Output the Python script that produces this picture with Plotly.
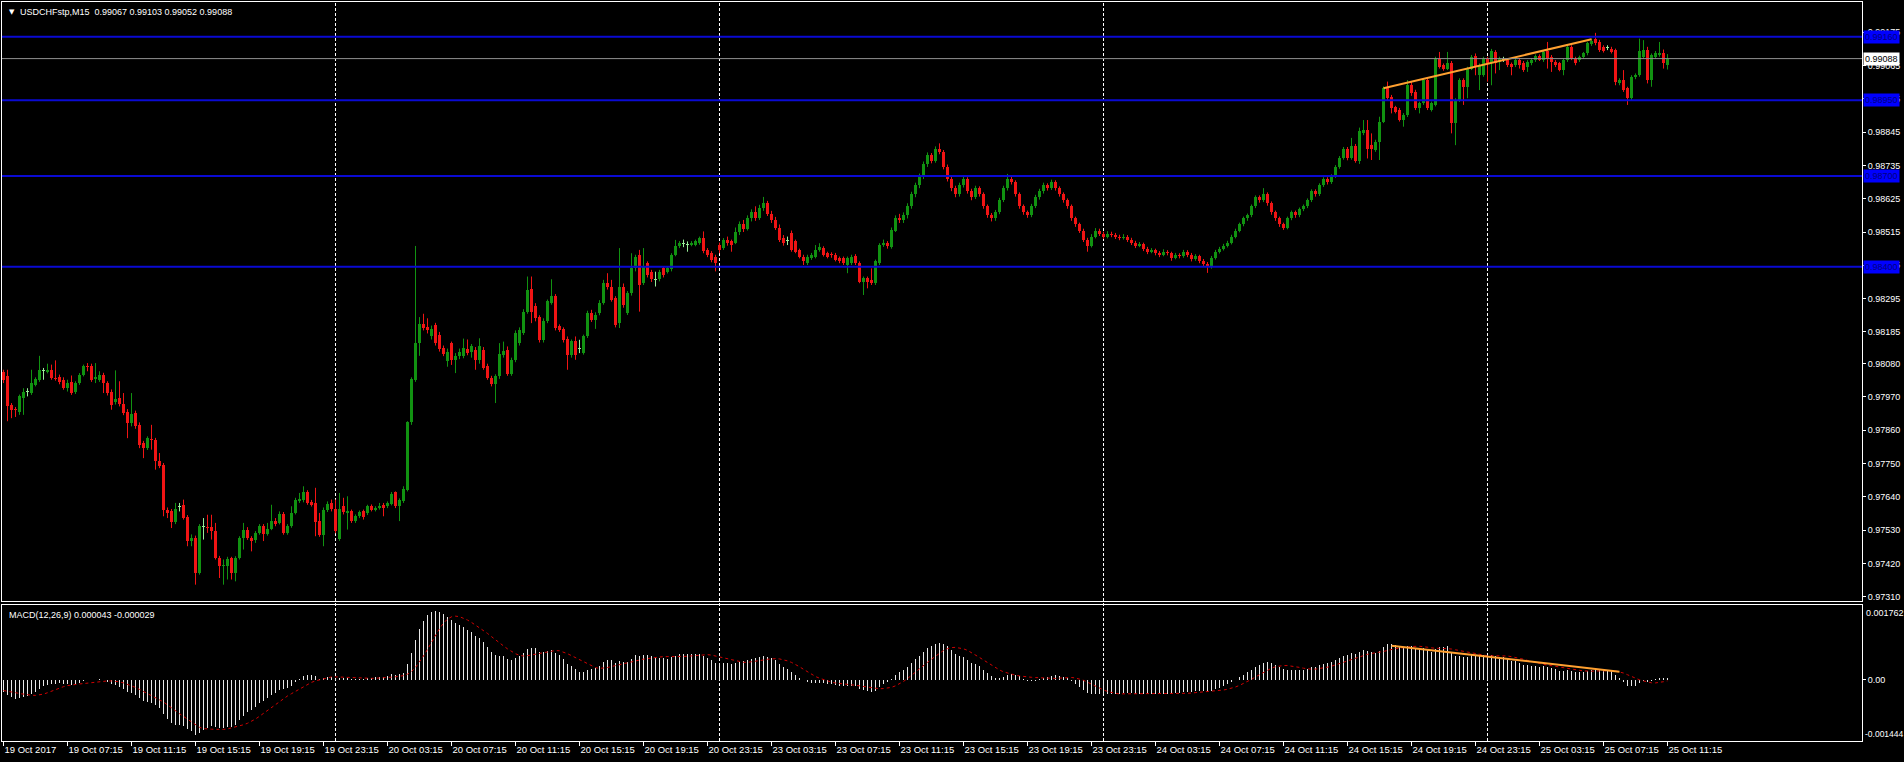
import numpy as np
import plotly.graph_objects as go

# ---------------- DATA (prices in points, 1 point = 0.00001) ----------------
SCALE = 1e-5

open_pts = [
    98054, 98038, 97944, 97931, 97922, 97966, 97988, 97983, 98010, 98025,
    98058, 98052, 98060, 98032, 98035, 98027, 98000, 98021, 97985, 98016,
    98044, 98073, 98073, 98029, 98027, 98044, 98016, 97988, 97952, 97966,
    97948, 97922, 97884, 97917, 97879, 97818, 97801, 97829, 97829, 97760,
    97746, 97598, 97592, 97556, 97608, 97614, 97573, 97494, 97505, 97389,
    97542, 97541, 97541, 97527, 97438, 97411, 97413, 97437, 97389, 97438,
    97505, 97532, 97505, 97499, 97521, 97543, 97519, 97534, 97560, 97554,
    97582, 97521, 97543, 97587, 97625, 97629, 97656, 97623, 97620, 97560,
    97515, 97596, 97620, 97601, 97501, 97609, 97587, 97592, 97560, 97576,
    97592, 97587, 97609, 97598, 97603, 97614, 97609, 97618, 97655, 97609,
    97625, 97664, 97886, 98027, 98148, 98211, 98200, 98170, 98208, 98175,
    98132, 98088, 98150, 98091, 98104, 98104, 98128, 98120, 98124, 98091,
    98124, 98071, 98033, 98014, 98038, 98110, 98124, 98047, 98093, 98150,
    98181, 98252, 98326, 98271, 98234, 98159, 98220, 98280, 98304, 98203,
    98194, 98161, 98110, 98154, 98131, 98115, 98170, 98247, 98225, 98247,
    98280, 98346, 98335, 98297, 98214, 98335, 98247, 98313, 98395, 98440,
    98346, 98412, 98384, 98359, 98359, 98395, 98384, 98392, 98440, 98469,
    98476, 98474, 98473, 98473, 98478, 98495, 98456, 98445, 98434, 98472,
    98462, 98489, 98484, 98480, 98516, 98540, 98525, 98560, 98580, 98560,
    98595, 98610, 98575, 98555, 98530, 98495, 98487, 98511, 98484, 98456,
    98434, 98412, 98429, 98434, 98456, 98462, 98445, 98440, 98440, 98428,
    98428, 98406, 98412, 98436, 98412, 98351, 98362, 98357, 98346, 98412,
    98472, 98478, 98467, 98520, 98560, 98555, 98570, 98600, 98640, 98670,
    98700, 98740, 98770, 98750, 98790, 98780, 98730, 98690, 98660, 98640,
    98670, 98690, 98650, 98630, 98660, 98640, 98600, 98570, 98560, 98580,
    98620, 98660, 98690, 98680, 98640, 98600, 98580, 98570, 98600, 98630,
    98650, 98670, 98660, 98680, 98660, 98640, 98620, 98600, 98560, 98540,
    98520, 98490, 98470, 98500, 98520, 98510, 98500, 98510, 98505, 98500,
    98495, 98500, 98490, 98480, 98470, 98475, 98460, 98450, 98455, 98445,
    98440, 98450, 98445, 98430, 98440, 98435, 98450, 98440, 98425, 98435,
    98420, 98410, 98400, 98430, 98450, 98460, 98470, 98480, 98500, 98520,
    98540, 98560, 98570, 98600, 98630, 98620, 98640, 98610, 98580, 98560,
    98540, 98530, 98560, 98580, 98570, 98590, 98600, 98620, 98650, 98640,
    98670, 98690, 98680, 98700, 98730, 98760, 98790, 98760, 98800, 98750,
    98841, 98852, 98802, 98786, 98813, 98880, 98990, 98962, 98927, 98918,
    98885, 98902, 99000, 98978, 98924, 98940, 99017, 98918, 98935, 99088,
    99066, 99055, 99072, 98874, 98951, 99017, 98995, 99055, 99096, 99033,
    99033, 99088, 99072, 99110, 99077, 99086, 99085, 99070, 99066, 99083,
    99074, 99061, 99072, 99083, 99096, 99083, 99114, 99094, 99077, 99072,
    99052, 99083, 99127, 99088, 99083, 99094, 99105, 99136, 99154, 99143,
    99127, 99126, 99121, 99116, 99006, 99017, 98990, 98957, 99026, 99033,
    99094, 99116, 99017, 99094, 99099, 99107, 99067,
]

high_pts = [
    98060, 98060, 97950, 97937, 97978, 97999, 97999, 98060, 98035, 98106,
    98066, 98080, 98077, 98091, 98044, 98035, 98027, 98041, 98022, 98049,
    98077, 98082, 98080, 98082, 98055, 98050, 98022, 97995, 98058, 98022,
    97983, 97930, 97983, 97925, 97886, 97825, 97840, 97878, 97835, 97785,
    97752, 97605, 97600, 97620, 97620, 97631, 97580, 97516, 97512, 97550,
    97570, 97581, 97581, 97554, 97445, 97433, 97442, 97442, 97444, 97510,
    97554, 97540, 97510, 97527, 97550, 97550, 97554, 97614, 97570, 97592,
    97590, 97550, 97609, 97637, 97653, 97675, 97662, 97630, 97670, 97587,
    97605, 97625, 97631, 97631, 97653, 97637, 97642, 97598, 97582, 97595,
    97598, 97614, 97615, 97609, 97620, 97620, 97625, 97656, 97658, 97635,
    97675, 97890, 98035, 98469, 98234, 98245, 98230, 98206, 98215, 98185,
    98140, 98130, 98153, 98115, 98130, 98163, 98160, 98145, 98135, 98164,
    98135, 98080, 98040, 98045, 98148, 98153, 98137, 98100, 98190, 98200,
    98260, 98368, 98368, 98280, 98240, 98230, 98292, 98359, 98310, 98210,
    98200, 98170, 98160, 98170, 98159, 98176, 98255, 98258, 98250, 98290,
    98357, 98379, 98357, 98303, 98462, 98345, 98320, 98445, 98440, 98456,
    98462, 98418, 98390, 98384, 98390, 98400, 98400, 98445, 98489, 98485,
    98490, 98484, 98485, 98490, 98500, 98517, 98462, 98452, 98440, 98480,
    98495, 98500, 98490, 98530, 98550, 98555, 98570, 98590, 98600, 98605,
    98631, 98618, 98585, 98565, 98540, 98505, 98500, 98520, 98490, 98460,
    98440, 98440, 98446, 98472, 98478, 98468, 98450, 98448, 98446, 98434,
    98434, 98434, 98440, 98442, 98418, 98368, 98368, 98395, 98424, 98478,
    98490, 98485, 98530, 98570, 98575, 98580, 98610, 98648, 98678, 98708,
    98748, 98778, 98776, 98798, 98808, 98786, 98738, 98698, 98668, 98678,
    98700, 98696, 98658, 98668, 98666, 98646, 98606, 98578, 98588, 98628,
    98668, 98707, 98698, 98686, 98646, 98606, 98586, 98608, 98638, 98658,
    98678, 98676, 98688, 98686, 98666, 98646, 98626, 98606, 98566, 98546,
    98526, 98496, 98508, 98528, 98526, 98516, 98518, 98516, 98512, 98506,
    98508, 98505, 98496, 98486, 98482, 98480, 98466, 98462, 98460, 98452,
    98458, 98455, 98450, 98446, 98445, 98456, 98455, 98446, 98442, 98440,
    98426, 98416, 98436, 98456, 98466, 98476, 98486, 98506, 98526, 98546,
    98566, 98576, 98606, 98636, 98636, 98660, 98646, 98616, 98586, 98566,
    98546, 98566, 98586, 98586, 98596, 98606, 98626, 98656, 98656, 98676,
    98696, 98696, 98706, 98736, 98766, 98796, 98796, 98826, 98806, 98860,
    98885, 98885, 98841, 98820, 98896, 98996, 99012, 98968, 98932, 98925,
    98908, 99017, 99012, 98985, 98946, 99023, 99023, 98946, 99094, 99110,
    99072, 99110, 99080, 98957, 99023, 99023, 99061, 99100, 99105, 99072,
    99094, 99094, 99120, 99116, 99094, 99094, 99090, 99075, 99090, 99090,
    99080, 99083, 99090, 99102, 99102, 99116, 99143, 99100, 99083, 99077,
    99088, 99132, 99132, 99094, 99098, 99110, 99143, 99154, 99173, 99150,
    99132, 99132, 99127, 99121, 99023, 99050, 98995, 99033, 99039, 99154,
    99149, 99127, 99105, 99113, 99143, 99118, 99103,
]

low_pts = [
    98016, 97890, 97900, 97904, 97911, 97911, 97972, 97977, 98005, 98020,
    98027, 98048, 98027, 98024, 98012, 97994, 97988, 97977, 97980, 98010,
    98038, 98055, 98020, 98016, 98020, 97983, 97975, 97928, 97945, 97939,
    97910, 97834, 97873, 97865, 97801, 97768, 97795, 97796, 97730, 97735,
    97576, 97570, 97537, 97550, 97592, 97565, 97477, 97477, 97350, 97383,
    97499, 97521, 97499, 97433, 97372, 97350, 97367, 97367, 97361, 97433,
    97466, 97498, 97460, 97488, 97515, 97494, 97512, 97530, 97543, 97549,
    97515, 97515, 97538, 97582, 97620, 97622, 97614, 97608, 97510, 97508,
    97477, 97590, 97592, 97520, 97495, 97582, 97532, 97554, 97554, 97570,
    97565, 97580, 97592, 97592, 97598, 97576, 97603, 97612, 97603, 97560,
    97620, 97658, 97878, 98020, 98106, 98190, 98180, 98160, 98140, 98120,
    98105, 98070, 98076, 98049, 98095, 98098, 98108, 98100, 98060, 98080,
    98060, 98027, 98005, 97950, 98030, 98100, 98040, 98040, 98085, 98140,
    98175, 98245, 98214, 98220, 98150, 98150, 98214, 98275, 98190, 98185,
    98150, 98060, 98100, 98093, 98115, 98110, 98165, 98218, 98195, 98240,
    98275, 98325, 98285, 98200, 98198, 98265, 98241, 98305, 98385, 98252,
    98340, 98365, 98350, 98335, 98352, 98365, 98378, 98385, 98435, 98462,
    98465, 98450, 98468, 98468, 98473, 98445, 98432, 98415, 98385, 98445,
    98456, 98470, 98450, 98475, 98505, 98515, 98520, 98550, 98552, 98555,
    98585, 98568, 98545, 98522, 98482, 98470, 98472, 98450, 98445, 98428,
    98406, 98406, 98423, 98428, 98450, 98434, 98428, 98430, 98418, 98412,
    98406, 98379, 98406, 98406, 98346, 98307, 98329, 98340, 98340, 98406,
    98466, 98460, 98460, 98515, 98545, 98545, 98560, 98592, 98630, 98660,
    98690, 98730, 98742, 98744, 98772, 98722, 98682, 98650, 98630, 98632,
    98662, 98642, 98620, 98624, 98632, 98592, 98562, 98550, 98552, 98574,
    98614, 98652, 98672, 98632, 98592, 98572, 98562, 98564, 98594, 98622,
    98642, 98652, 98654, 98652, 98632, 98612, 98592, 98552, 98532, 98512,
    98482, 98450, 98464, 98494, 98502, 98492, 98494, 98498, 98492, 98488,
    98490, 98482, 98472, 98462, 98465, 98452, 98442, 98445, 98438, 98432,
    98435, 98438, 98420, 98425, 98428, 98430, 98432, 98418, 98420, 98412,
    98402, 98380, 98394, 98424, 98444, 98454, 98464, 98474, 98494, 98514,
    98534, 98552, 98564, 98594, 98612, 98614, 98602, 98572, 98552, 98532,
    98522, 98524, 98554, 98562, 98564, 98584, 98594, 98614, 98632, 98634,
    98664, 98672, 98674, 98694, 98724, 98754, 98752, 98754, 98744, 98740,
    98835, 98758, 98753, 98780, 98753, 98875, 98950, 98907, 98907, 98880,
    98863, 98895, 98965, 98918, 98907, 98935, 98918, 98913, 98930, 99055,
    99048, 99050, 98841, 98802, 98945, 98935, 98957, 99050, 99033, 98984,
    99028, 99012, 99000, 99039, 99050, 99077, 99060, 99033, 99060, 99055,
    99044, 99044, 99066, 99077, 99080, 99077, 99055, 99044, 99060, 99046,
    99033, 99077, 99083, 99066, 99077, 99088, 99099, 99130, 99132, 99110,
    99108, 99116, 99105, 99000, 99000, 98978, 98935, 98951, 99020, 99028,
    99088, 99006, 98995, 99088, 99094, 99055, 99052,
]

close_pts = [
    98027, 97939, 97928, 97926, 97972, 97988, 97988, 98016, 98029, 98060,
    98058, 98060, 98032, 98028, 98019, 98000, 98016, 97983, 98016, 98044,
    98071, 98069, 98027, 98035, 98044, 98016, 97983, 97944, 97964, 97948,
    97917, 97884, 97915, 97873, 97812, 97801, 97834, 97827, 97758, 97741,
    97598, 97587, 97556, 97600, 97608, 97570, 97494, 97505, 97389, 97543,
    97542, 97536, 97527, 97438, 97411, 97416, 97435, 97389, 97438, 97505,
    97532, 97505, 97494, 97521, 97543, 97519, 97535, 97560, 97549, 97582,
    97521, 97543, 97587, 97631, 97634, 97656, 97620, 97614, 97556, 97515,
    97598, 97618, 97600, 97526, 97601, 97589, 97592, 97560, 97576, 97589,
    97574, 97609, 97598, 97603, 97611, 97603, 97619, 97651, 97609, 97629,
    97666, 97886, 98029, 98148, 98212, 98198, 98190, 98195, 98148, 98128,
    98113, 98120, 98091, 98106, 98120, 98131, 98115, 98137, 98091, 98137,
    98065, 98033, 98014, 98038, 98113, 98123, 98047, 98093, 98181, 98192,
    98252, 98324, 98252, 98230, 98159, 98220, 98286, 98304, 98197, 98192,
    98159, 98110, 98154, 98110, 98131, 98170, 98247, 98225, 98241, 98282,
    98346, 98333, 98291, 98209, 98335, 98274, 98313, 98395, 98434, 98341,
    98401, 98373, 98359, 98359, 98384, 98373, 98395, 98440, 98469, 98478,
    98476, 98474, 98478, 98484, 98495, 98451, 98440, 98423, 98412, 98456,
    98489, 98478, 98473, 98516, 98540, 98525, 98560, 98580, 98560, 98595,
    98610, 98575, 98555, 98530, 98490, 98478, 98487, 98456, 98450, 98434,
    98418, 98434, 98440, 98456, 98467, 98440, 98434, 98439, 98423, 98418,
    98412, 98428, 98434, 98412, 98351, 98362, 98351, 98346, 98418, 98472,
    98478, 98468, 98522, 98560, 98555, 98570, 98600, 98640, 98670, 98700,
    98740, 98770, 98750, 98790, 98780, 98730, 98690, 98660, 98640, 98670,
    98690, 98650, 98630, 98660, 98640, 98600, 98570, 98560, 98580, 98620,
    98660, 98690, 98680, 98640, 98600, 98580, 98570, 98600, 98630, 98650,
    98670, 98660, 98680, 98660, 98640, 98620, 98600, 98560, 98540, 98520,
    98490, 98470, 98500, 98520, 98510, 98500, 98510, 98505, 98500, 98495,
    98500, 98490, 98480, 98470, 98475, 98460, 98450, 98455, 98445, 98440,
    98450, 98445, 98430, 98440, 98435, 98450, 98440, 98425, 98435, 98420,
    98410, 98400, 98430, 98450, 98460, 98470, 98480, 98500, 98520, 98540,
    98560, 98570, 98600, 98630, 98620, 98640, 98610, 98580, 98560, 98540,
    98530, 98560, 98580, 98570, 98590, 98600, 98620, 98650, 98640, 98670,
    98690, 98680, 98700, 98730, 98760, 98790, 98760, 98800, 98750, 98850,
    98852, 98791, 98791, 98813, 98880, 98990, 98957, 98924, 98913, 98885,
    98902, 99000, 98973, 98924, 98940, 99017, 98924, 98940, 99088, 99061,
    99055, 99072, 98874, 98951, 99017, 98995, 99055, 99094, 99061, 99066,
    99088, 99072, 99114, 99074, 99088, 99086, 99066, 99061, 99083, 99066,
    99052, 99077, 99083, 99096, 99085, 99110, 99088, 99077, 99066, 99052,
    99083, 99127, 99088, 99072, 99092, 99105, 99138, 99147, 99138, 99118,
    99114, 99126, 99110, 99012, 99017, 98984, 98957, 99028, 99033, 99114,
    99116, 99017, 99099, 99107, 99107, 99074, 99088,
]

# x-axis labels (every 16 M15 bars) and day separators (bar index)
x_label_bars = list(range(0, 417, 16))
x_labels = [
    "19 Oct 2017", "19 Oct 07:15", "19 Oct 11:15", "19 Oct 15:15", "19 Oct 19:15",
    "19 Oct 23:15", "20 Oct 03:15", "20 Oct 07:15", "20 Oct 11:15", "20 Oct 15:15",
    "20 Oct 19:15", "20 Oct 23:15", "23 Oct 03:15", "23 Oct 07:15", "23 Oct 11:15",
    "23 Oct 15:15", "23 Oct 19:15", "23 Oct 23:15", "24 Oct 03:15", "24 Oct 07:15",
    "24 Oct 11:15", "24 Oct 15:15", "24 Oct 19:15", "24 Oct 23:15", "25 Oct 03:15",
    "25 Oct 07:15", "25 Oct 11:15",
]
day_breaks = [83, 179, 275, 371]

price_ticks = [0.99175, 0.99065, 0.98955, 0.98845, 0.98735, 0.98625, 0.98515,
               0.98405, 0.98295, 0.98185, 0.98080, 0.97970, 0.97860, 0.97750,
               0.97640, 0.97530, 0.97420, 0.97310]
price_range = [0.97296, 0.99275]

h_levels = [0.99160, 0.98950, 0.98700, 0.98400]
bid_price = 0.99088

trend_price_bars = [345, 397]
trend_price_vals = [0.98990, 0.99152]
trend_macd_bars = [347, 404]
trend_macd_vals = [0.00080, 0.00019]

macd_range = [-0.001444, 0.001762]
macd_seed_fast = 0.98045   # EMA(12) state before the first visible bar
macd_seed_slow = 0.98075   # EMA(26) state before the first visible bar
macd_seed_signal = -0.00025

title_text = "USDCHFstp,M15  0.99067 0.99103 0.99052 0.99088"
macd_text = "MACD(12,26,9) 0.000043 -0.000029"

# ---------------- STYLE ----------------
W, H = 1904, 762
ML, MR, MT, MB = 2, 42, 2, 21
FONT = "Liberation Sans"
WHITE = "#ffffff"
UP, DOWN, DOJI = "#119211", "#f01414", "#98ee98"
BLUE = "#0a0ad2"
ORANGE = "#ffa030"

n = len(close_pts)
assert len(open_pts) == n and len(high_pts) == n and len(low_pts) == n

# ---------------- MACD (12,26,9) from closes ----------------
closes = np.array(close_pts) * SCALE
a12, a26 = 2.0 / 13.0, 2.0 / 27.0
f, s = macd_seed_fast, macd_seed_slow
macd = np.empty(n)
for k, c in enumerate(closes):
    f += a12 * (c - f)
    s += a26 * (c - s)
    macd[k] = f - s
padded = np.concatenate([np.full(8, macd_seed_signal), macd])
signal = np.convolve(padded, np.ones(9) / 9.0, mode="valid")

# ---------------- candles ----------------
groups = {"up": ([], [], [], [], []), "down": ([], [], [], [], []), "doji": ([], [], [], [], [])}
min_body = 0.000033
for i in range(n):
    o, h, l, c = (open_pts[i] * SCALE, high_pts[i] * SCALE,
                  low_pts[i] * SCALE, close_pts[i] * SCALE)
    if open_pts[i] == close_pts[i]:
        key = "doji"
    elif c > o:
        key = "up"
    else:
        key = "down"
    bx, bbase, bh, wx, wy = groups[key]
    lo, hi = min(o, c), max(o, c)
    if hi - lo < min_body:
        mid = (hi + lo) / 2
        lo, hi = mid - min_body / 2, mid + min_body / 2
    bx.append(i); bbase.append(lo); bh.append(hi - lo)
    wx += [i, i, None]; wy += [l, h, None]

fig = go.Figure()
colors = {"up": UP, "down": DOWN, "doji": DOJI}
for key, (bx, bbase, bh, wx, wy) in groups.items():
    fig.add_trace(go.Scatter(x=wx, y=wy, mode="lines", line=dict(color=colors[key], width=1),
                             hoverinfo="skip", xaxis="x", yaxis="y"))
for key, (bx, bbase, bh, wx, wy) in groups.items():
    fig.add_trace(go.Bar(x=bx, y=bh, base=bbase, width=0.75, marker=dict(color=colors[key], line=dict(width=0)),
                         xaxis="x", yaxis="y", hoverinfo="skip"))

fig.add_trace(go.Scatter(x=trend_price_bars, y=trend_price_vals, mode="lines",
                         line=dict(color=ORANGE, width=2), xaxis="x", yaxis="y", hoverinfo="skip"))

# MACD
fig.add_trace(go.Bar(x=list(range(n)), y=macd, width=0.25, marker=dict(color="#e8e8e8", line=dict(width=0)),
                     xaxis="x2", yaxis="y2", hoverinfo="skip"))
fig.add_trace(go.Scatter(x=list(range(n)), y=signal, mode="lines",
                         line=dict(color="#d00000", width=1, dash="dot"), xaxis="x2", yaxis="y2", hoverinfo="skip"))
fig.add_trace(go.Scatter(x=trend_macd_bars, y=trend_macd_vals, mode="lines",
                         line=dict(color=ORANGE, width=2), xaxis="x2", yaxis="y2", hoverinfo="skip"))

# ---------------- layout geometry ----------------
plot_h = H - MT - MB
main_bottom_px, macd_top_px = 601, 605
main_dom = [(H - MB - main_bottom_px) / plot_h, 1.0]
macd_dom = [0.0, (H - MB - macd_top_px) / plot_h]
x_range = [-0.375, (W - ML - MR) / 4.0 - 0.375]

shapes = []
for b in day_breaks:
    shapes.append(dict(type="line", xref="x", yref="paper", x0=b, x1=b, y0=0, y1=1,
                       line=dict(color=WHITE, width=1, dash="3px,2px"), layer="below"))
for lv in h_levels:
    shapes.append(dict(type="line", xref="paper", yref="y", x0=0, x1=1, y0=lv, y1=lv,
                       line=dict(color=BLUE, width=2), layer="above"))
shapes.append(dict(type="line", xref="paper", yref="y", x0=0, x1=1, y0=bid_price, y1=bid_price,
                   line=dict(color="#909090", width=1), layer="above"))

small = dict(family=FONT, size=9, color=WHITE)
xfont = dict(family=FONT, size=9.5, color=WHITE)
annotations = [
    dict(xref="paper", yref="paper", x=0, y=1, xanchor="left", yanchor="top", xshift=5, yshift=-4,
         text="▼", showarrow=False, font=dict(family="DejaVu Sans", size=7, color=WHITE)),
    dict(xref="paper", yref="paper", x=0, y=1, xanchor="left", yanchor="top", xshift=16, yshift=-3,
         text=title_text, showarrow=False, font=small),
    dict(xref="paper", yref="paper", x=0, y=macd_dom[1], xanchor="left", yanchor="top", xshift=5, yshift=-3,
         text=macd_text, showarrow=False, font=small),
    dict(xref="paper", yref="paper", x=1, y=macd_dom[1], xanchor="left", yanchor="top", xshift=2, yshift=-1,
         text="0.001762", showarrow=False, font=small),
    dict(xref="paper", yref="paper", x=1, y=0, xanchor="left", yanchor="bottom", xshift=1, yshift=0,
         text="-0.001444", showarrow=False, font=dict(family=FONT, size=8.5, color=WHITE)),
]
for lv in h_levels:
    annotations.append(dict(xref="paper", yref="y", x=1, y=lv, xanchor="left", yanchor="middle", xshift=1,
                            text=f"{lv:.5f}", showarrow=False, bgcolor="#0000ff", borderpad=1,
                            font=dict(family=FONT, size=9, color="#000080")))
annotations.append(dict(xref="paper", yref="y", x=1, y=bid_price, xanchor="left", yanchor="middle", xshift=1,
                        text=f"{bid_price:.5f}", showarrow=False, bgcolor=WHITE, borderpad=1,
                        font=dict(family=FONT, size=9, color="#000000")))

axis_common = dict(showgrid=False, zeroline=False, showline=True, linecolor=WHITE, linewidth=1,
                   mirror=True, automargin=False)

fig.update_layout(
    width=W, height=H, margin=dict(l=ML, r=MR, t=MT, b=MB, autoexpand=False),
    paper_bgcolor="#000000", plot_bgcolor="#000000",
    showlegend=False, barmode="overlay", bargap=0,
    font=dict(family=FONT, size=9, color=WHITE),
    xaxis=dict(domain=[0, 1], anchor="y", range=x_range, showticklabels=False, ticks="", **axis_common),
    yaxis=dict(domain=main_dom, anchor="x", side="right", range=price_range,
               tickvals=price_ticks, ticktext=[f"{t:.5f}" for t in price_ticks],
               ticks="outside", ticklen=3, tickcolor=WHITE, tickfont=small, **axis_common),
    xaxis2=dict(domain=[0, 1], anchor="y2", matches="x", range=x_range,
                tickvals=x_label_bars, ticktext=x_labels, ticks="outside", ticklen=4, tickcolor=WHITE,
                ticklabelposition="outside right", tickfont=xfont, **axis_common),
    yaxis2=dict(domain=macd_dom, anchor="x2", side="right", range=macd_range,
                tickvals=[0.0], ticktext=["0.00"], ticks="outside", ticklen=3, tickcolor=WHITE,
                tickfont=small, **axis_common),
    shapes=shapes, annotations=annotations,
)

page_css = ("document.body.style.margin='0';document.body.style.padding='0';"
            "document.body.style.background='#000';"
            "document.documentElement.style.overflow='hidden';")
fig.write_html("out.html", post_script=page_css, config={"displayModeBar": False, "staticPlot": True})
